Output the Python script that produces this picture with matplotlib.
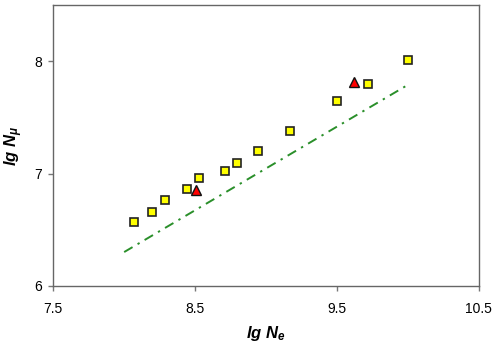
import matplotlib
matplotlib.use("Agg")
import matplotlib.pyplot as plt

plt.rcParams['font.family'] = ['Liberation Sans', 'DejaVu Sans']
plt.rcParams['mathtext.fontset'] = 'custom'
plt.rcParams['mathtext.it'] = 'Liberation Sans:italic:bold'
plt.rcParams['mathtext.rm'] = 'Liberation Sans:bold'
plt.rcParams['mathtext.bf'] = 'Liberation Sans:italic:bold'

sq_x = [8.067, 8.198, 8.288, 8.441, 8.527, 8.709, 8.798, 8.941, 9.169, 9.499, 9.722, 10.001]
sq_y = [6.571, 6.661, 6.762, 6.861, 6.962, 7.021, 7.093, 7.203, 7.381, 7.643, 7.801, 8.012]
tri_x = [8.508, 9.621]
tri_y = [6.852, 7.816]
line_x = [8.0, 10.0]
line_y = [6.30, 7.79]

xticks = [7.5, 8.5, 9.5, 10.5]
xticklabels = ["7.5", "8.5", "9.5", "10.5"]
yticks = [6, 7, 8]
yticklabels = ["6", "7", "8"]

fig = plt.figure(figsize=(4.98, 3.44), dpi=100)
ax = fig.add_axes([0.107, 0.1695, 0.854, 0.815])

ax.plot(line_x, line_y, linestyle=(0, (5, 3, 1.2, 3)), color='#2a8f2a', linewidth=1.4, zorder=2)
ax.plot(sq_x, sq_y, linestyle='none', marker='s', markersize=6.3, markerfacecolor='#ffff00',
        markeredgecolor='#222222', markeredgewidth=1.2, zorder=3)
ax.plot(tri_x, tri_y, linestyle='none', marker='^', markersize=7, markerfacecolor='#ff0000',
        markeredgecolor='#111111', markeredgewidth=1.0, zorder=4)

ax.set_xlim(7.5, 10.5)
ax.set_ylim(6, 8.5)
ax.set_xticks(xticks)
ax.set_xticklabels(xticklabels)
ax.set_yticks(yticks)
ax.set_yticklabels(yticklabels)
ax.tick_params(direction='out', length=3.5, width=1, colors='#777777', labelsize=10, labelcolor='black')
ax.tick_params(axis='x', pad=8)
ax.tick_params(axis='y', pad=4.5)
for s in ax.spines.values():
    s.set_color('#666666')
    s.set_linewidth(1.0)

ax.set_xlabel(r'$lg\ N_e$', fontsize=12, labelpad=6)
ax.set_ylabel(r'$lg\ N_\mu$', fontsize=12, labelpad=7)

fig.savefig('out.png', dpi=100)
